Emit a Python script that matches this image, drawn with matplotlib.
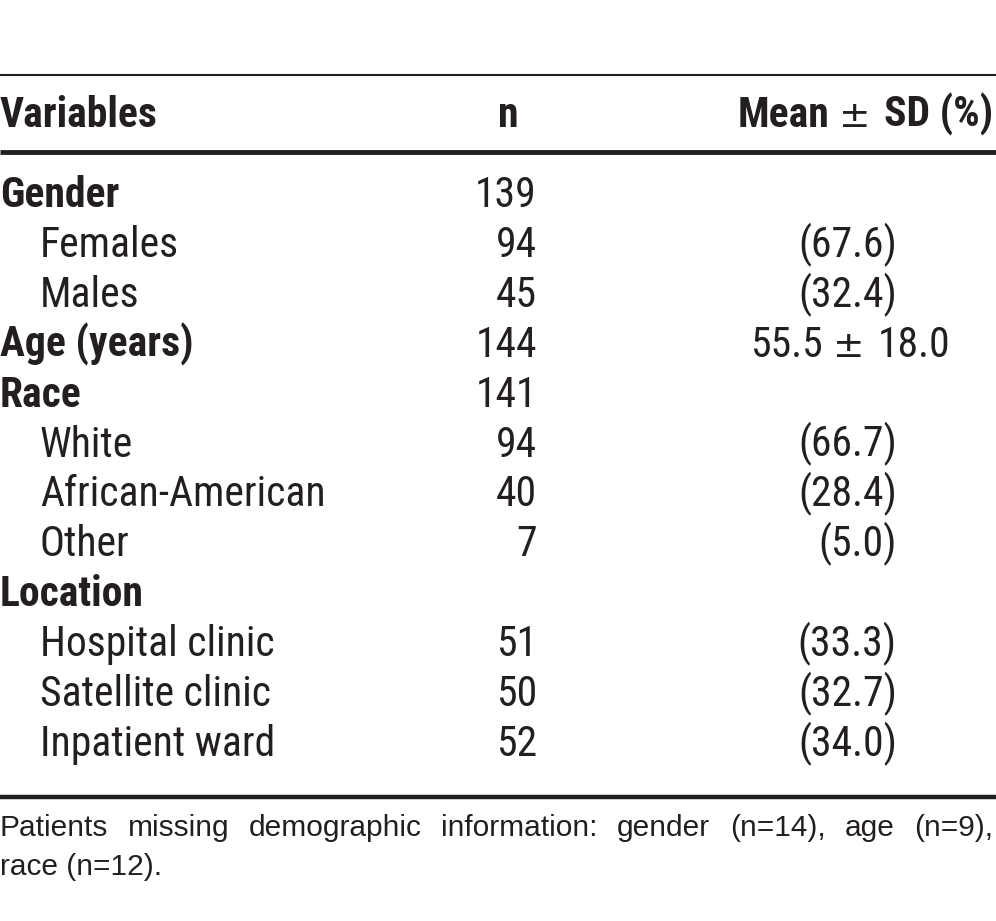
import matplotlib
matplotlib.use("Agg")
import matplotlib.pyplot as plt

# ---- data ----
labels = ["Gender", "Females", "Males", "Age (years)", "Race", "White",
          "African-American", "Other", "Location", "Hospital clinic",
          "Satellite clinic", "Inpatient ward"]
is_header = [True, False, False, True, True, False, False, False, True,
             False, False, False]
n_values = ["139", "94", "45", "144", "141", "94", "40", "7", "", "51", "50", "52"]
stat_values = ["", "(67.6)", "(32.4)", "55.5 \u00b1 18.0", "", "(66.7)", "(28.4)",
               "(5.0)", "", "(33.3)", "(32.7)", "(34.0)"]
col_headers = ["Variables", "n", "Mean \u00b1 SD (%)"]
footnote = ["Patients missing demographic information: gender (n=14), age (n=9),",
            "race (n=12)."]

FAM = ["Roboto Condensed", "Liberation Sans", "DejaVu Sans"]
FAM_PM = ["DejaVu Sans"]
FAM_NOTE = ["Liberation Sans", "DejaVu Sans"]
INK = "#231f20"
PM = " \u00b1 "

W, H = 996, 921
fig = plt.figure(figsize=(W / 100, H / 100), dpi=100)
ax = fig.add_axes([0, 0, 1, 1])
ax.set_xlim(0, W)
ax.set_ylim(H, 0)
ax.axis("off")

fs = 30
# rules
ax.plot([0, W], [75, 75], color=INK, lw=1.5, solid_capstyle="butt")
ax.plot([0, W], [152.5, 152.5], color=INK, lw=3.5, solid_capstyle="butt")
ax.plot([0, W], [797, 797], color=INK, lw=3.2, solid_capstyle="butt")


def pm_text(x_right, y, s, bold):
    """Right-aligned 'a ± b' with a light, wide plus-minus sign."""
    left, right = s.split(PM)
    w = "bold" if bold else "normal"
    t = ax.text(x_right, y, right, fontsize=fs, fontweight=w, family=FAM,
                ha="right", va="baseline", color=INK)
    fig.canvas.draw()
    r = fig.canvas.get_renderer()
    x0 = t.get_window_extent(r).x0
    ax.text(x0 - 29, y, "\u00b1", fontsize=27, family=FAM_PM,
            ha="center", va="baseline", color=INK)
    ax.text(x0 - 55, y, left, fontsize=fs, fontweight=w, family=FAM,
            ha="right", va="baseline", color=INK)


# header
hb = 127
ax.text(0, hb, col_headers[0], fontsize=fs, fontweight="bold", family=FAM,
        ha="left", va="baseline", color=INK)
ax.text(508, hb, col_headers[1], fontsize=fs, fontweight="bold", family=FAM,
        ha="center", va="baseline", color=INK)
pm_text(993, hb, col_headers[2], True)

base0 = 207
step = 49.9
for i, lab in enumerate(labels):
    y = base0 + i * step
    if is_header[i]:
        ax.text(0, y, lab, fontsize=fs, fontweight="bold", family=FAM,
                ha="left", va="baseline", color=INK)
    else:
        ax.text(40, y, lab, fontsize=fs, family=FAM, ha="left", va="baseline",
                color=INK)
    if n_values[i]:
        ax.text(537, y, n_values[i], fontsize=fs, family=FAM, ha="right",
                va="baseline", color=INK)
    sv = stat_values[i]
    if sv:
        if PM in sv:
            pm_text(950, y, sv, False)
        else:
            ax.text(897, y, sv, fontsize=fs, family=FAM, ha="right",
                    va="baseline", color=INK)

# footnote: first line justified across the full width
fig.canvas.draw()
renderer = fig.canvas.get_renderer()
words = footnote[0].split(" ")
fs_note = 21.5
arts = [ax.text(0, 836, w, fontsize=fs_note, family=FAM_NOTE, ha="left",
                va="baseline", color=INK) for w in words]
widths = [a.get_window_extent(renderer).width for a in arts]
right = 993
gap = (right - sum(widths)) / (len(words) - 1)
x = 0
for a, w in zip(arts, widths):
    a.set_x(x)
    x += w + gap
ax.text(0, 875, footnote[1], fontsize=fs_note, family=FAM_NOTE, ha="left",
        va="baseline", color=INK)

fig.savefig("out.png", dpi=100, facecolor="white")
